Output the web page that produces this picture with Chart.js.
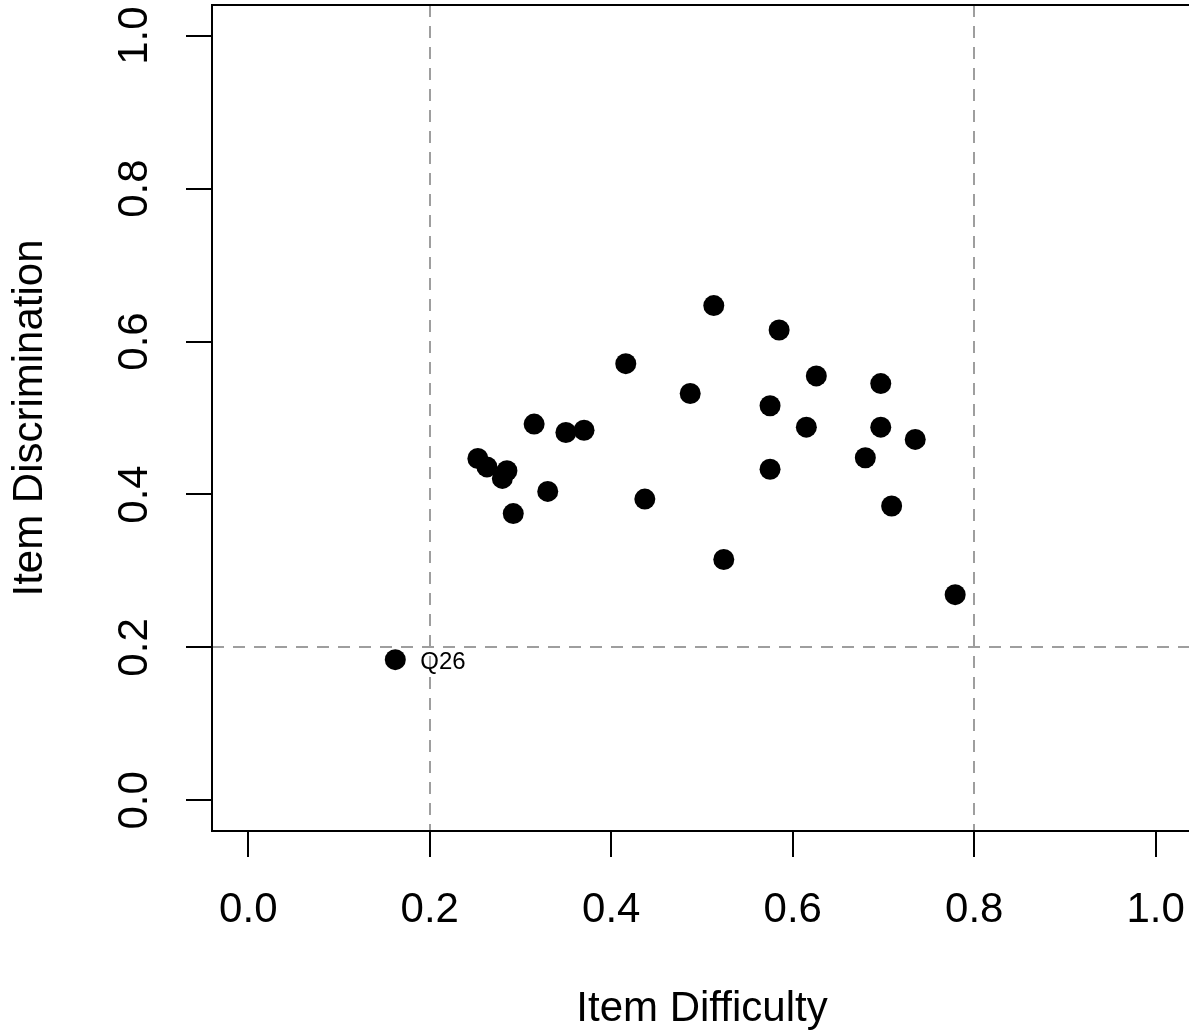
<!DOCTYPE html>
<html>
<head>
<meta charset="utf-8">
<title>Item Difficulty vs Item Discrimination</title>
<script src="https://cdn.jsdelivr.net/npm/chart.js@4.4.1/dist/chart.umd.min.js"></script>
<style>
    html, body { margin: 0; padding: 0; overflow: hidden; background: #fff; }
    #box { width: 1192px; height: 1035px; }
</style>
</head>
<body>
<div id="box"><canvas id="itemChart" width="1192" height="1035"></canvas></div>
<script>
// item statistics
var difficulty = [0.162, 0.253, 0.263, 0.285, 0.280, 0.292, 0.315, 0.330, 0.350, 0.370,
    0.416, 0.437, 0.487, 0.513, 0.524, 0.575, 0.575, 0.585, 0.615, 0.626,
    0.680, 0.697, 0.697, 0.709, 0.735, 0.779];
var discrimination = [0.184, 0.447, 0.436, 0.431, 0.421, 0.375, 0.492, 0.404, 0.481, 0.484,
    0.571, 0.394, 0.532, 0.647, 0.315, 0.516, 0.433, 0.615, 0.488, 0.555,
    0.448, 0.545, 0.488, 0.385, 0.472, 0.269];
var itemLabels = ['Q26', '', '', '', '', '', '', '', '', '', '', '', '', '',
    '', '', '', '', '', '', '', '', '', '', '', ''];

var xTicks = [0, 0.2, 0.4, 0.6, 0.8, 1.0];
var xTickLabels = ['0.0', '0.2', '0.4', '0.6', '0.8', '1.0'];
var yTicks = [0, 0.2, 0.4, 0.6, 0.8, 1.0];
var yTickLabels = ['0.0', '0.2', '0.4', '0.6', '0.8', '1.0'];

// cut-off lines
var cutX = [0.2, 0.8];
var cutY = [0.2];

var fontFamily = "'Liberation Sans', Arial, sans-serif";

var framePlugin = {
    id: 'frame',
    beforeDatasetsDraw: function (chart) {
        var ctx = chart.ctx;
        var area = chart.chartArea;
        var xs = chart.scales.x;
        var ys = chart.scales.y;
        ctx.save();
        ctx.strokeStyle = '#9e9e9e';
        ctx.lineWidth = 2;
        ctx.setLineDash([12, 9]);
        cutX.forEach(function (v) {
            var px = Math.round(xs.getPixelForValue(v));
            ctx.beginPath();
            ctx.moveTo(px, area.top);
            ctx.lineTo(px, area.bottom);
            ctx.stroke();
        });
        cutY.forEach(function (v) {
            var py = Math.round(ys.getPixelForValue(v));
            ctx.beginPath();
            ctx.moveTo(area.left, py);
            ctx.lineTo(area.right, py);
            ctx.stroke();
        });
        ctx.restore();
    },
    afterDatasetsDraw: function (chart) {
        var ctx = chart.ctx;
        var area = chart.chartArea;
        ctx.save();
        ctx.strokeStyle = '#000';
        ctx.lineWidth = 2;
        ctx.strokeRect(area.left, area.top, area.right - area.left, area.bottom - area.top);

        var meta = chart.getDatasetMeta(0);
        ctx.fillStyle = '#000';
        ctx.font = '24px ' + fontFamily;
        ctx.textAlign = 'left';
        ctx.textBaseline = 'middle';
        itemLabels.forEach(function (txt, i) {
            if (!txt) return;
            var pt = meta.data[i];
            ctx.fillText(txt, pt.x + 25, pt.y + 3);
        });
        ctx.restore();
    }
};

function createChart() {
    var ctx = document.getElementById('itemChart').getContext('2d');
    var points = difficulty.map(function (d, i) {
        return { x: d, y: discrimination[i] };
    });

    new Chart(ctx, {
        type: 'scatter',
        data: {
            datasets: [{
                data: points,
                backgroundColor: '#000',
                borderWidth: 0,
                pointRadius: 10.5,
                pointHoverRadius: 10.5
            }]
        },
        options: {
            responsive: false,
            animation: false,
            layout: { autoPadding: false, padding: { top: 5, left: 0, right: 0, bottom: 0 } },
            plugins: {
                legend: { display: false },
                tooltip: { enabled: false }
            },
            scales: {
                x: {
                    type: 'linear',
                    min: -0.04,
                    max: 1.04,
                    afterBuildTicks: function (scale) {
                        scale.ticks = xTicks.map(function (v) { return { value: v }; });
                    },
                    afterFit: function (scale) {
                        scale.height = 204;
                        scale.paddingLeft = 0;
                        scale.paddingRight = 0;
                    },
                    border: { display: false },
                    grid: {
                        drawOnChartArea: false,
                        drawTicks: true,
                        tickLength: 26,
                        color: '#000',
                        lineWidth: 2
                    },
                    ticks: {
                        padding: 28,
                        color: '#000',
                        font: { family: fontFamily, size: 42 },
                        maxRotation: 0,
                        callback: function (v, i) { return xTickLabels[i]; }
                    },
                    title: {
                        display: true,
                        text: 'Item Difficulty',
                        color: '#000',
                        font: { family: fontFamily, size: 42 },
                        padding: { top: 0, bottom: 0 }
                    }
                },
                y: {
                    type: 'linear',
                    min: -0.04,
                    max: 1.04,
                    afterBuildTicks: function (scale) {
                        scale.ticks = yTicks.map(function (v) { return { value: v }; });
                    },
                    afterFit: function (scale) {
                        scale.width = 212;
                        scale.paddingTop = 0;
                        scale.paddingBottom = 0;
                    },
                    border: { display: false },
                    grid: {
                        drawOnChartArea: false,
                        drawTicks: true,
                        tickLength: 26,
                        color: '#000',
                        lineWidth: 2
                    },
                    ticks: {
                        padding: 21,
                        color: '#000',
                        crossAlign: 'center',
                        minRotation: 90,
                        maxRotation: 90,
                        font: { family: fontFamily, size: 42 },
                        callback: function (v, i) { return yTickLabels[i]; }
                    },
                    title: {
                        display: true,
                        text: 'Item Discrimination',
                        color: '#000',
                        font: { family: fontFamily, size: 42 },
                        padding: { top: 5, bottom: 0 }
                    }
                }
            }
        },
        plugins: [framePlugin]
    });
}

createChart();
</script>
</body>
</html>
